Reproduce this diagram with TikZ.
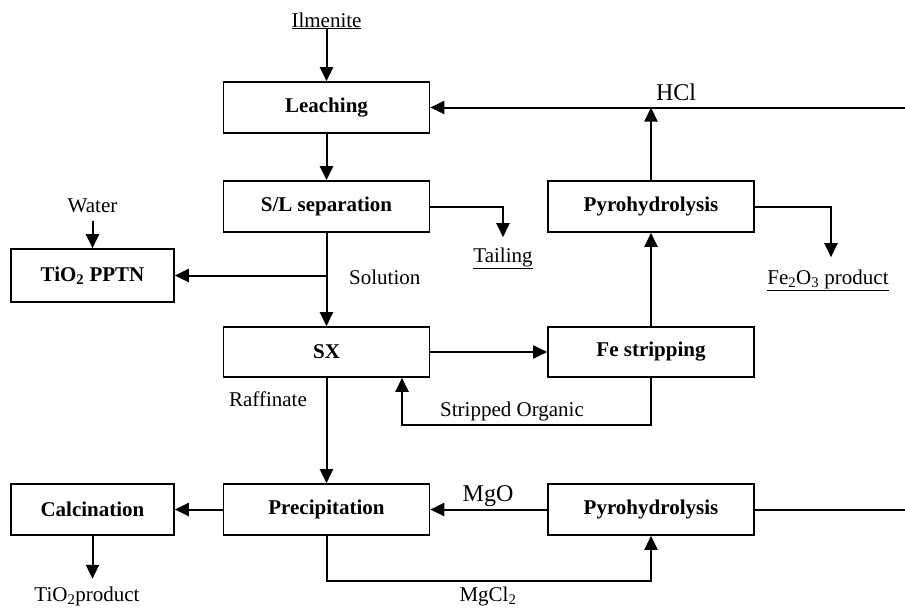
\documentclass[tikz,border=0pt]{standalone}
\usepackage{fontspec}
\setmainfont{Liberation Serif}
\usetikzlibrary{arrows.meta}
\begin{document}
\begin{tikzpicture}[x=1pt,y=-1pt,
  box/.style={draw, line width=1.6pt, minimum width=206pt, minimum height=51pt,
    inner sep=0pt, font=\fontsize{21}{25}\selectfont\bfseries},
  smallbox/.style={box, minimum width=163pt},
  lbl/.style={inner sep=0pt, font=\fontsize{21}{25}\selectfont},
  biglbl/.style={inner sep=0pt, font=\fontsize{24}{28}\selectfont},
  pipe/.style={line width=2pt},
  flow/.style={pipe, -{Triangle[length=14pt,width=13pt]}}]
\useasboundingbox (0,0) rectangle (905,608);

% process units
\node[box] (leach) at (326.5,107.5) {Leaching};
\node[box] (slsep) at (326.5,206.5) {S/L separation};
\node[box] (pyroA) at (651,206.5) {Pyrohydrolysis};
\node[smallbox, minimum height=53pt] (tippt) at (92.5,275.5) {TiO\textsubscript{2} PPTN};
\node[box, minimum height=50pt] (sx) at (326.5,352) {SX};
\node[box, minimum height=50pt] (festrip) at (651,352) {Fe stripping};
\node[box] (precip) at (326.5,509.5) {Precipitation};
\node[smallbox] (calc) at (92.5,509.5) {Calcination};
\node[box] (pyroB) at (651,509.5) {Pyrohydrolysis};

% stream labels
\node[lbl, anchor=base] (ilm) at (326.5,27) {\underline{Ilmenite}};
\node[biglbl, anchor=base] (hcl) at (676,100) {HCl};
\node[lbl, anchor=base] (water) at (92.5,212) {Water};
\node[lbl, anchor=base west] (soln) at (349,284) {Solution};
\node[lbl, anchor=base] (tail) at (503,262) {\underline{Tailing}};
\node[lbl, anchor=base] (fe2o3) at (828,284) {\underline{Fe\textsubscript{2}O\textsubscript{3} product}};
\node[lbl, anchor=base] (raff) at (268,406) {Raffinate};
\node[lbl, anchor=base] (strip) at (512,416) {Stripped Organic};
\node[biglbl, anchor=base] (mgo) at (488,501) {MgO};
\node[lbl, anchor=base] (mgcl) at (488,601) {MgCl\textsubscript{2}};
\node[lbl, anchor=base] (tiprod) at (87,601) {TiO\textsubscript{2}product};

% loose ends of the recycle lines
\coordinate (hclend) at (905,107.5);
\coordinate (mgend) at (905,509.5);

% streams
\draw[flow] (ilm.south) -- (leach.north);
\draw[flow] (hclend) -- (leach.east);
\draw[flow] (leach.south) -- (slsep.north);
\draw[flow] (pyroA.north) -- (pyroA.north |- hclend);
\draw[flow] (slsep.east) -| ([yshift=10pt]tail.north);
\draw[flow] (pyroA.east) -| ([xshift=3pt,yshift=12pt]fe2o3.north);
\draw[flow] (slsep.south) -- (sx.north);
\draw[flow] (slsep.south |- tippt.east) -- (tippt.east);
\draw[flow] ([yshift=-8pt]water.south) -- (tippt.north);
\draw[flow] (sx.east) -- (festrip.west);
\draw[flow] (festrip.north) -- (pyroA.south);
\draw[flow] (festrip.south) -- ++(0,47) -| ([xshift=75.5pt]sx.south);
\draw[flow] (sx.south) -- (precip.north);
\draw[flow] (precip.west) -- (calc.east);
\draw[flow] (pyroB.west) -- (precip.east);
\draw[flow] (precip.south) -- ++(0,45) -| (pyroB.south);
\draw[flow] (calc.south) -- ++(0,43);
\draw[pipe] (pyroB.east) -- (mgend);
\end{tikzpicture}
\end{document}
